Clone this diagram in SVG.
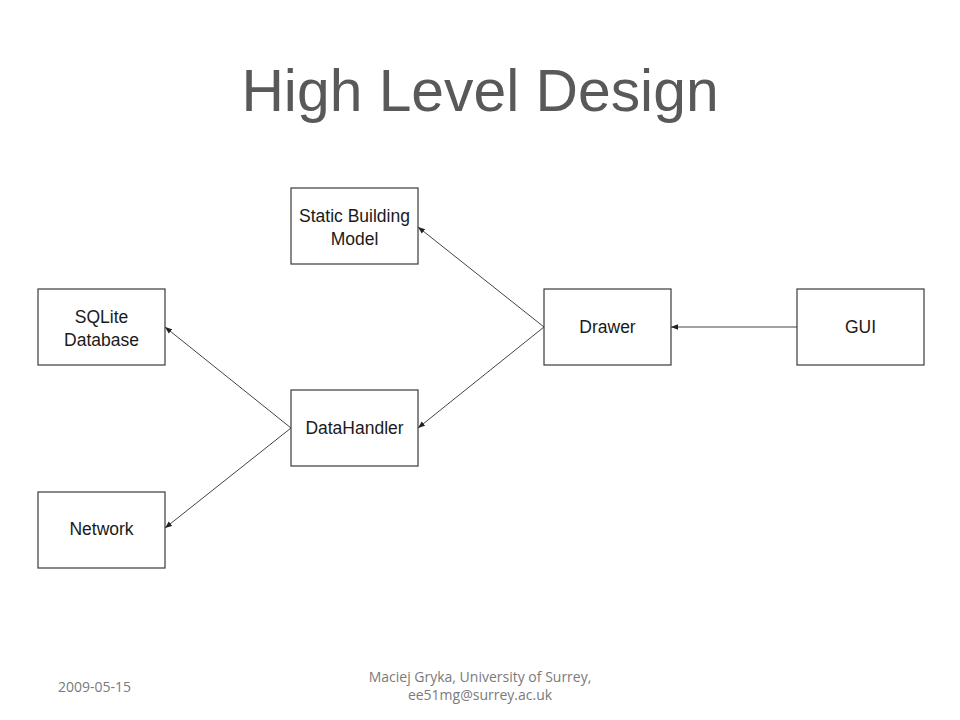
<svg xmlns="http://www.w3.org/2000/svg" width="960" height="720" viewBox="0 0 960 720">
<defs>
<style>
.box{fill:#ffffff;stroke:#3a3a3a;stroke-width:1.2}
.lbl{font-family:"Liberation Sans",Arial,sans-serif;font-size:17.5px;fill:#1a1a1a;text-anchor:middle}
.edge{stroke:#444;stroke-width:1;fill:none;marker-end:url(#ah)}
.foot{font-family:"Open Sans","Liberation Sans",sans-serif;font-size:14px;fill:#7a7a7a}
</style>
<marker id="ah" viewBox="0 0 10 10" refX="10" refY="5" markerWidth="7" markerHeight="7" markerUnits="userSpaceOnUse" orient="auto">
<path d="M0,1 L10,5 L0,9 z" fill="#222"/>
</marker>
</defs>
<rect width="960" height="720" fill="#ffffff"/>
<text x="480" y="111" font-family="Liberation Sans,Arial,sans-serif" font-size="58.8" fill="#595959" text-anchor="middle">High Level Design</text>
<g id="connectors">
<line class="edge" x1="544" y1="327" x2="418" y2="227"/>
<line class="edge" x1="544" y1="327" x2="418" y2="428"/>
<line class="edge" x1="797" y1="327" x2="671" y2="327"/>
<line class="edge" x1="291" y1="428" x2="165" y2="327"/>
<line class="edge" x1="291" y1="428" x2="165" y2="528"/>
</g>
<g id="static-building-model">
<rect class="box" x="291" y="188" width="127" height="76"/>
<text class="lbl" x="354.5" y="222">Static Building</text>
<text class="lbl" x="354.5" y="245">Model</text>
</g>
<g id="sqlite-database">
<rect class="box" x="38" y="289" width="127" height="76"/>
<text class="lbl" x="101.5" y="323">SQLite</text>
<text class="lbl" x="101.5" y="346">Database</text>
</g>
<g id="drawer">
<rect class="box" x="544" y="289" width="127" height="76"/>
<text class="lbl" x="607.5" y="333">Drawer</text>
</g>
<g id="gui">
<rect class="box" x="797" y="289" width="127" height="76"/>
<text class="lbl" x="860.5" y="333">GUI</text>
</g>
<g id="datahandler">
<rect class="box" x="291" y="390" width="127" height="76"/>
<text class="lbl" x="354.5" y="434">DataHandler</text>
</g>
<g id="network">
<rect class="box" x="38" y="492" width="127" height="76"/>
<text class="lbl" x="101.5" y="535">Network</text>
</g>
<text class="foot" x="58" y="692">2009-05-15</text>
<text class="foot" x="480" y="682" text-anchor="middle">Maciej Gryka, University of Surrey,</text>
<text class="foot" x="480" y="700" text-anchor="middle">ee51mg@surrey.ac.uk</text>
</svg>
